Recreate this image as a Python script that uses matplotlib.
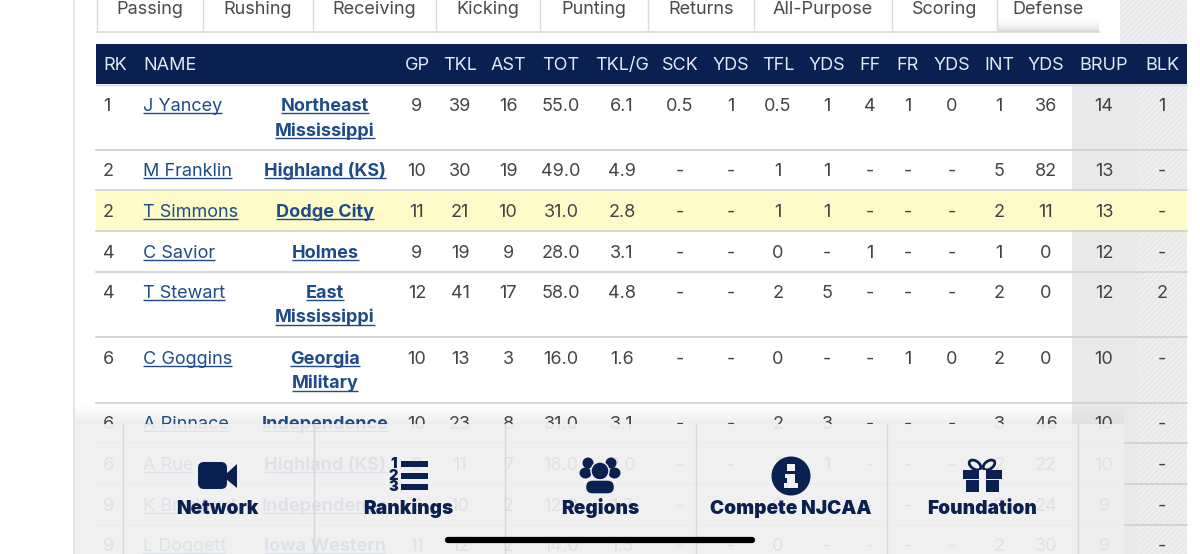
import numpy as np
import matplotlib
matplotlib.use("Agg")
import matplotlib.pyplot as plt
from matplotlib.patches import Rectangle, Circle, Ellipse, FancyBboxPatch, Polygon

# ---------- data ----------
tabs = ["Passing", "Rushing", "Receiving", "Kicking", "Punting", "Returns", "All-Purpose", "Scoring", "Defense"]
headers = ["GP", "TKL", "AST", "TOT", "TKL/G", "SCK", "YDS", "TFL", "YDS", "FF", "FR", "YDS", "INT", "YDS", "BRUP", "BLK"]
rk = ["1", "2", "2", "4", "4", "6", "6", "6", "9", "9"]
names = ["J Yancey", "M Franklin", "T Simmons", "C Savior", "T Stewart", "C Goggins", "A Pinnace", "A Rue", "K Bradford", "L Doggett"]
teams = ["Northeast\nMississippi", "Highland (KS)", "Dodge City", "Holmes", "East\nMississippi", "Georgia\nMilitary",
         "Independence", "Highland (KS)", "Independence", "Iowa Western"]
gp = ["9", "10", "11", "9", "12", "10", "10", "9", "9", "11"]
tkl = ["39", "30", "21", "19", "41", "13", "23", "11", "10", "12"]
ast = ["16", "19", "10", "9", "17", "3", "8", "7", "2", "2"]
tot = ["55.0", "49.0", "31.0", "28.0", "58.0", "16.0", "31.0", "18.0", "12.0", "14.0"]
tkl_g = ["6.1", "4.9", "2.8", "3.1", "4.8", "1.6", "3.1", "2.0", "1.7", "1.3"]
sck = ["0.5", "-", "-", "-", "-", "-", "-", "-", "-", "-"]
sck_yds = ["1", "-", "-", "-", "-", "-", "-", "-", "-", "-"]
tfl = ["0.5", "1", "1", "0", "2", "0", "2", "1", "0", "0"]
tfl_yds = ["1", "1", "1", "-", "5", "-", "3", "1", "-", "-"]
ff = ["4", "-", "-", "1", "-", "-", "-", "-", "-", "-"]
fr = ["1", "-", "-", "-", "-", "1", "-", "-", "-", "-"]
fr_yds = ["0", "-", "-", "-", "-", "0", "-", "-", "-", "-"]
ints = ["1", "5", "2", "1", "2", "2", "3", "2", "3", "2"]
int_yds = ["36", "82", "11", "0", "0", "0", "46", "22", "24", "30"]
brup = ["14", "13", "13", "12", "12", "10", "10", "10", "9", "9"]
blk = ["1", "-", "-", "-", "2", "-", "-", "-", "-", "-"]
nav = ["Network", "Rankings", "Regions", "Compete NJCAA", "Foundation"]

stat_cols = [gp, tkl, ast, tot, tkl_g, sck, sck_yds, tfl, tfl_yds, ff, fr, fr_yds, ints, int_yds, brup, blk]

# ---------- layout ----------
W, H = 1200, 554
tab_edges = [97, 203, 313, 436, 540, 648, 754, 892, 997, 1099]
col_x = [417, 460, 508, 561, 622, 680, 731, 778, 827, 870, 908, 952, 999, 1046, 1104, 1162]
row_y = [105, 170, 211, 252, 292, 358, 423, 464, 505, 545]
row_lines = [150, 190, 231, 272, 337, 403, 443, 484, 525]
nav_x = [217, 408, 600, 791, 982]
NAVY = "#0a2050"
LINK = "#1f4c88"
TXT = "#444444"
FONT = "Inter"
FS = 13.0
BASE = 6.0   # baseline sits this far below a row's centre

plt.rcParams["font.family"] = [FONT, "DejaVu Sans"]
plt.rcParams["hatch.linewidth"] = 0.5
fig = plt.figure(figsize=(12, 5.54), dpi=100)
ax = fig.add_axes([0, 0, 1, 1])
ax.set_xlim(0, W)
ax.set_ylim(H, 0)
ax.axis("off")

def rect(x0, y0, x1, y1, **kw):
    kw.setdefault("lw", 0)
    p = Rectangle((x0, y0), x1 - x0, y1 - y0, **kw)
    ax.add_patch(p)
    return p

def label(x, y, s, ha="center", **kw):
    kw.setdefault("fontsize", FS)
    kw.setdefault("zorder", 3)
    return ax.text(x, y + BASE, s, ha=ha, va="baseline", **kw)

# page furniture
rect(73, 0, 75, H, fc="#e4e4e4", zorder=1)
rect(1120, 0, 1187, 44, fc="#eeeeee", ec="#e2e2e2", hatch="//////", zorder=1)
rect(1072, 84, 1137, H, fc="#e9e9e9", zorder=1)
rect(1137, 84, 1187, H, fc="#eeeeee", ec="#e2e2e2", hatch="//////", zorder=1)
rect(96, 191, 1187, 231, fc="#fefbc9", zorder=1.1)

# tabs
ax.plot([97, 1099], [32, 32], color="#d4d4d4", lw=1.1, zorder=2)
for e in tab_edges[:-1]:
    ax.plot([e, e], [0, 32], color="#dcdcdc", lw=1, zorder=2)
grad_tab = np.zeros((16, 2, 4))
grad_tab[..., :3] = matplotlib.colors.to_rgb("#d4d4d4")
grad_tab[..., 3] = np.linspace(0, 0.9, 16)[:, None] ** 2
ax.imshow(grad_tab, extent=(997, 1099, 32, 16), aspect="auto", zorder=1.2, interpolation="bilinear")
for i, t in enumerate(tabs):
    label((tab_edges[i] + tab_edges[i + 1]) / 2, 8, t, color="#4a4a4a")

# header
rect(96, 44, 1187, 84, fc=NAVY, zorder=2)
ax.plot([96, 1187], [84.5, 84.5], color="#d5dbe6", lw=1, zorder=2)
label(103, 64, "RK", ha="left", color="#e3e9f2")
label(143, 64, "NAME", ha="left", color="#e3e9f2")
for x, h in zip(col_x, headers):
    label(x, 64, h, color="#e3e9f2")

# rows
for y in row_lines:
    ax.plot([96, 1187], [y, y], color="#cfcfcf", lw=1.2, zorder=2)

fig.canvas.draw()
rend = fig.canvas.get_renderer()
inv = ax.transData.inverted()

def link(x, y, s, ha, weight):
    t = label(x, y, s, ha=ha, color=LINK, fontweight=weight)
    bb = t.get_window_extent(rend)
    x0 = inv.transform((bb.x0, 0))[0]
    x1 = inv.transform((bb.x1, 0))[0]
    ax.plot([x0, x1], [y + 8.3, y + 8.3], color=LINK, lw=1.0, zorder=3, solid_capstyle="butt")

for i, y in enumerate(row_y):
    label(103, y, rk[i], ha="left", color=TXT)
    link(143, y, names[i], "left", "normal")
    for j, line in enumerate(teams[i].split("\n")):
        link(325, y + 24.5 * j, line, "center", "bold")
    for x, col in zip(col_x, stat_cols):
        label(x, y, col[i], color=TXT)

# soft shadow above the panel, under the text
grad = np.zeros((32, 2, 4))
grad[..., :3] = matplotlib.colors.to_rgb("#d8d8d8")
grad[..., 3] = np.linspace(0, 0.45, 32)[:, None]
ax.imshow(grad, extent=(75, 1124, 424, 404), aspect="auto", zorder=1.5, interpolation="bilinear")
ax.set_xlim(0, W)
ax.set_ylim(H, 0)

# translucent nav panel
rect(75, 424, 1124, H, fc="#efeff0", alpha=0.92, zorder=4)
for x in [122.5, 313.5, 504.5, 695.5, 886.5, 1077.5]:
    ax.plot([x, x], [424, H], color="#d6d6d8", lw=1, zorder=5)
for x, s in zip(nav_x, nav):
    ax.text(x, 514, s, ha="center", va="baseline", fontsize=13.7, fontweight=900, color=NAVY, zorder=6)

# nav icons
ic = dict(fc=NAVY, lw=0, zorder=6)
ax.add_patch(FancyBboxPatch((198, 462), 29, 27, boxstyle="round,pad=0,rounding_size=6", **ic))
ax.add_patch(Polygon([(226, 474), (237, 464), (237, 488), (226, 479)], **ic))

for y, n in zip([464, 476, 487], ["1", "2", "3"]):
    rect(401, y - 3, 428, y + 3, **ic)
    ax.text(393.5, y + 4, n, ha="center", va="baseline", fontsize=10.5, fontweight=900, color=NAVY, zorder=6)

for cx in (588, 611):
    ax.add_patch(Circle((cx, 463), 5.5, **ic))
for cx in (585.5, 614.5):
    ax.add_patch(Ellipse((cx, 473), 12, 11, **ic))
ax.add_patch(Circle((600, 471), 9, fc=NAVY, ec="#efeff0", lw=1, zorder=6.1))
ax.add_patch(FancyBboxPatch((585.5, 480), 29, 14, boxstyle="round,pad=0,rounding_size=7", fc=NAVY, ec="#efeff0", lw=1, zorder=6.1))

ax.add_patch(Circle((791, 476), 19.5, **ic))
w = dict(fc="#f2f2f2", lw=0, zorder=6.2)
rect(787, 464, 795, 471, **w)
rect(785, 474, 795, 478, **w)
rect(787, 474, 795, 486, **w)
rect(784, 483, 798, 488, **w)

rect(963, 470, 1002, 479, **ic)
rect(966, 480, 999, 492, **ic)
rect(978.5, 470, 986, 492, fc="#f2f2f2", lw=0, zorder=6.2)
for cx, a in ((975, 35), (989, -35)):
    ax.add_patch(Ellipse((cx, 465), 13, 8, angle=a, fc="none", ec=NAVY, lw=2, zorder=6))

# home indicator
ax.plot([448, 752], [540, 540], color="#000000", lw=4.5, solid_capstyle="round", zorder=7)

fig.savefig("out.png", dpi=100)
